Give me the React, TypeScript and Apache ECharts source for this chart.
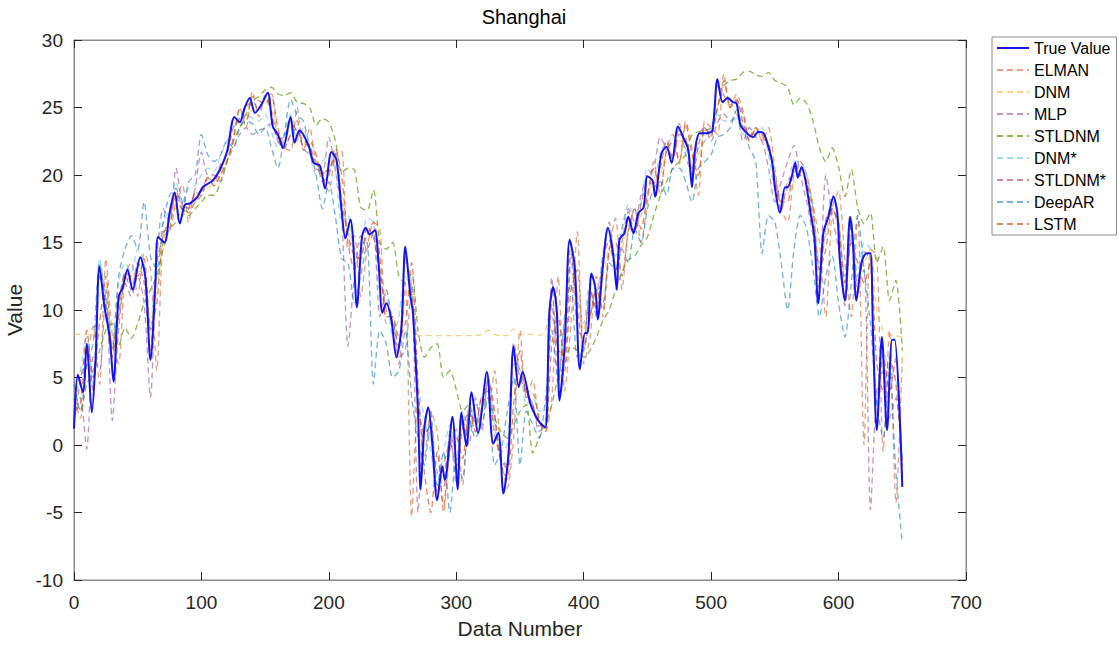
import React, { useEffect, useRef } from "react";
import * as echarts from "echarts";

// True value: [data number, value]
const trueValue: [number, number][] = [
  [0, 1.2], [3, 5.2], [7, 3.9], [10, 7.5], [14, 2.4], [17, 6.5], [20, 13.2], [24, 10.2], [28, 8], [31, 4.7],
  [35, 11], [38, 11.6], [42, 13], [46, 11.5], [52, 13.9], [56, 12.4], [60, 6.3], [64, 12.2], [66, 15.4], [71, 15],
  [75, 17.2], [79, 18.7], [83, 16.4], [87, 17.8], [91, 17.9], [97, 18.4], [101, 19.1], [109, 19.6], [115, 20.5], [120, 21.7],
  [126, 24.3], [130, 23.9], [134, 25], [138, 25.7], [142, 24.6], [147, 25.2], [152, 26.1], [156, 23.6], [160, 23], [164, 22],
  [170, 24.3], [173, 22.4], [177, 23.3], [184, 22.2], [188, 20.9], [193, 20.7], [197, 19], [202, 21.7], [206, 21.1], [210, 17.4],
  [213, 15.3], [217, 16.7], [219, 15.2], [222, 10.2], [226, 15.4], [229, 16.1], [232, 15.6], [236, 15.9], [239, 13.5], [242, 9.8],
  [245, 10.5], [249, 9.3], [253, 6.5], [257, 8.7], [260, 14.7], [264, 11], [266, 9.8], [270, 2.4], [272, -3.3], [275, 1.3],
  [278, 2.8], [281, 0.3], [285, -4.1], [289, -1.6], [291, -2.6], [297, 2.1], [301, -3.3], [304, 2.4], [308, -0.1], [312, 3.9],
  [317, 0.9], [324, 5.4], [329, 0.1], [333, 0.9], [337, -3.6], [341, -0.6], [345, 7.3], [349, 4.3], [352, 5.4], [358, 3.1],
  [362, 2.2], [366, 1.6], [370, 1.3], [373, 9.8], [376, 11.7], [379, 9.8], [381, 3.3], [385, 7.3], [389, 15.2], [393, 13.2],
  [397, 5.6], [401, 8.3], [403, 8.3], [406, 12.7], [409, 11.7], [411, 9.3], [415, 13.2], [419, 16.1], [423, 14.2], [426, 11.5],
  [428, 15.2], [432, 15.7], [435, 16.9], [439, 15.7], [443, 17.2], [447, 17.6], [450, 19.9], [454, 19.6], [456, 18.4], [461, 21.6],
  [465, 22.1], [469, 20.9], [474, 23.6], [478, 22.8], [482, 21.9], [485, 19.1], [487, 21.6], [491, 23.1], [497, 23.1], [501, 23.3],
  [505, 27.1], [509, 25.4], [513, 25.7], [517, 25.4], [520, 25.3], [523, 23.7], [528, 23.1], [533, 22.8], [537, 23.2], [541, 23.1],
  [544, 22.4], [548, 20.9], [550, 19.1], [554, 17.2], [558, 19.1], [560, 19.1], [563, 19.8], [566, 20.9], [568, 19.8], [571, 20.6],
  [574, 19.6], [578, 17.2], [581, 15.4], [584, 10.5], [588, 15.7], [592, 16.9], [596, 18.4], [599, 17.2], [601, 13.7], [605, 10.7],
  [609, 16.9], [611, 15.4], [614, 10.7], [618, 13.5], [622, 14.2], [625, 14.2], [627, 8.3], [630, 1.1], [634, 8], [638, 1.1],
  [642, 7.8], [644, 7.8], [650, -3.1],
];

// Model predictions sampled every 5 data numbers (0, 5, ..., 650)
const elman = [
  3.5, 2.0, 6.0, 8.8, 4.5, 13.8, 8.2, 6.0, 12.6, 13.5,
  11.0, 14.2, 13.0, 5.5, 15.5, 15.8, 18.0, 19.3, 16.5, 18.8,
  18.5, 19.8, 19.2, 20.3, 21.0, 22.8, 25.0, 23.5, 26.2, 24.3,
  25.8, 26.0, 22.5, 22.0, 21.8, 25.0, 21.8, 23.5, 20.8, 19.8,
  18.8, 21.5, 21.8, 14.5, 15.5, 11.0, 14.5, 16.5, 16.0, 9.0,
  9.5, 6.0, 12.0, -5.3, 3.5, -1.0, 2.5, 1.0, -5.0, -0.5,
  1.2, -3.0, 2.8, 1.0, 3.5, 3.0, 5.5, -1.0, -3.2, 0.5,
  8.5, 3.5, 4.8, 1.8, 1.0, 3.5, 12.5, 4.0, 9.0, 15.8,
  6.0, 8.0, 12.5, 9.5, 14.5, 16.8, 11.5, 16.0, 17.5, 15.0,
  18.0, 21.0, 18.5, 22.0, 23.0, 20.8, 24.0, 22.0, 18.5, 24.0,
  23.5, 23.0, 27.5, 25.0, 26.0, 24.8, 22.5, 23.5, 22.5, 23.5,
  20.5, 17.5, 16.5, 20.0, 21.0, 20.0, 17.8, 15.0, 9.5, 17.5,
  18.8, 13.5, 9.5, 17.0, 0.0, 14.5, 14.0, -0.5, 8.5, -4.3, 6.5,
];
const dnm = [
  8.2, 8.2, 8.2, 8.0, 11.0, 12.0, 6.5, 9.5, 12.0, 12.5,
  12.8, 13.0, 9.0, 11.5, 15.0, 16.5, 17.5, 17.0, 17.5, 18.0,
  18.8, 19.0, 19.5, 20.0, 21.0, 22.5, 23.5, 24.5, 24.8, 25.0,
  25.5, 24.8, 23.0, 22.5, 23.5, 23.0, 22.5, 22.0, 21.0, 20.0,
  20.5, 21.0, 18.5, 16.0, 14.5, 14.0, 15.5, 15.5, 13.0, 11.0,
  9.0, 8.0, 12.5, 11.5, 8.1, 8.1, 8.1, 8.1, 8.1, 8.1,
  8.1, 8.1, 8.1, 8.1, 8.2, 8.5, 8.2, 8.1, 8.1, 8.6,
  8.2, 8.2, 8.2, 8.1, 8.5, 11.0, 8.0, 8.5, 13.0, 10.5,
  8.5, 10.5, 10.5, 12.5, 14.5, 13.5, 14.5, 16.0, 16.0, 17.0,
  18.5, 19.5, 20.0, 21.5, 21.5, 22.5, 22.5, 20.5, 21.5, 22.5,
  23.0, 25.5, 25.5, 25.0, 24.5, 23.5, 23.0, 23.0, 22.8, 22.0,
  19.5, 18.0, 18.5, 19.5, 20.0, 19.5, 17.0, 13.5, 15.5, 17.5,
  16.0, 12.0, 15.0, 12.5, 13.5, 14.5, 10.0, 8.5, 8.2, 8.1, 8.0,
];
const mlp = [
  2.0, 3.5, -0.3, 6.5, 5.5, 11.5, 1.8, 8.5, 12.0, 11.0,
  12.5, 10.5, 3.5, 14.0, 17.5, 16.5, 20.5, 18.0, 17.5, 19.0,
  21.7, 20.0, 20.0, 19.5, 21.0, 22.0, 23.0, 23.5, 23.0, 23.3,
  23.5, 23.8, 22.5, 22.0, 23.0, 23.5, 22.0, 21.5, 21.0, 20.0,
  22.8, 20.5, 17.0, 7.3, 12.5, 15.5, 14.5, 15.8, 9.5, 11.5,
  9.0, 6.5, 7.0, 12.0, -5.0, 1.5, 0.5, -2.0, -3.1, 1.0,
  -3.0, 2.0, 0.0, 3.5, 1.0, 5.0, 2.0, -1.0, -1.5, 7.6,
  5.5, 4.0, 3.0, 1.0, 1.6, 12.4, 5.0, 9.0, 15.0, 8.5,
  8.0, 11.5, 9.5, 14.0, 16.5, 13.0, 16.0, 17.5, 16.5, 18.5,
  20.0, 20.5, 22.8, 22.0, 21.5, 23.8, 21.5, 20.0, 23.0, 23.5,
  22.5, 23.9, 24.5, 24.0, 24.5, 22.5, 23.5, 22.8, 22.5, 20.5,
  18.0, 19.5, 21.0, 22.2, 20.0, 18.0, 15.5, 13.0, 20.0, 17.0,
  14.5, 11.0, 15.5, 12.0, 13.0, -4.8, 4.0, 5.5, 2.0, 3.5, -1.5,
];
const stldnm = [
  3.0, 2.5, 4.5, 5.5, 7.0, 8.5, 9.0, 7.3, 8.7, 7.9,
  9.0, 10.5, 11.5, 12.5, 14.5, 16.0, 16.5, 17.5, 17.0, 17.5,
  18.0, 18.5, 18.5, 19.5, 21.0, 22.5, 23.5, 24.5, 25.5, 25.8,
  26.3, 26.5, 26.0, 25.9, 26.1, 25.4, 25.3, 25.0, 23.7, 24.2,
  23.9, 22.6, 20.2, 20.5, 20.4, 17.6, 17.4, 18.9, 15.0, 14.5,
  15.0, 12.5, 12.0, 12.7, 8.5, 6.5, 7.2, 7.5, 5.0, 5.5,
  4.1, 2.5, 3.0, 1.5, 2.5, 3.5, 2.0, 1.0, 0.5, 1.5,
  2.5, 3.0, -0.6, 0.5, 1.5, 3.0, 5.0, 6.0, 7.3, 7.0,
  6.5, 7.0, 8.0, 9.2, 10.0, 11.5, 12.8, 13.7, 14.0, 14.8,
  15.4, 17.0, 18.4, 19.5, 20.5, 21.0, 21.5, 23.0, 23.2, 23.3,
  23.5, 25.0, 26.6, 27.0, 27.1, 27.6, 27.7, 27.4, 27.3, 27.6,
  27.0, 26.8, 26.5, 25.2, 25.7, 25.3, 24.0, 22.0, 21.0, 22.0,
  20.6, 18.4, 20.4, 17.6, 16.4, 17.2, 13.5, 14.7, 10.7, 12.2, 7.0,
];
const dnmStar = [
  2.5, 5.5, 8.0, 4.5, 13.8, 11.0, 7.5, 12.0, 13.5, 12.8,
  14.5, 13.5, 8.5, 14.8, 16.5, 17.5, 19.5, 18.0, 19.0, 19.2,
  20.0, 20.5, 20.3, 21.5, 22.5, 23.5, 24.0, 24.5, 24.2, 24.0,
  24.5, 23.2, 22.0, 23.0, 24.5, 22.5, 23.5, 21.5, 20.0, 21.0,
  21.5, 20.5, 16.5, 17.0, 14.5, 15.0, 16.8, 16.5, 11.5, 11.5,
  8.0, 9.5, 13.5, 12.0, 4.5, 2.0, -0.5, -3.0, -0.5, 1.5,
  -1.0, 2.5, 1.0, 3.0, 2.5, 5.0, 1.5, -0.5, 0.0, 6.0,
  5.5, 3.0, 3.5, 2.5, 3.0, 9.5, 8.0, 8.5, 13.5, 11.0,
  9.0, 12.0, 11.5, 14.0, 16.0, 14.0, 16.0, 17.8, 17.0, 18.0,
  20.5, 19.8, 21.5, 22.5, 22.0, 23.5, 22.0, 20.5, 22.0, 22.5,
  23.5, 24.5, 24.0, 24.0, 24.2, 23.0, 23.5, 23.0, 23.5, 21.5,
  19.0, 18.5, 19.0, 21.0, 21.0, 20.0, 17.5, 13.5, 16.0, 18.5,
  16.5, 12.5, 16.5, 12.5, 15.0, 14.5, 3.0, 7.0, 5.5, 5.0, -1.0,
];
const stldnmStar = [
  1.5, 4.8, 7.0, 4.0, 12.5, 10.2, 6.5, 10.5, 12.6, 11.5,
  13.5, 12.0, 7.0, 13.5, 15.5, 16.8, 18.5, 17.5, 17.6, 18.6,
  18.8, 19.8, 19.5, 20.8, 21.5, 23.5, 24.2, 25.0, 25.5, 24.8,
  25.9, 24.6, 22.7, 22.8, 24.0, 23.2, 22.6, 22.2, 20.5, 20.3,
  20.3, 21.6, 18.0, 15.6, 14.0, 13.8, 16.2, 15.4, 12.8, 10.0,
  9.2, 7.2, 14.0, 11.0, 3.0, 0.8, 1.5, -3.6, -1.6, 0.2,
  -1.5, 1.3, 2.4, 1.7, 3.6, 4.0, 0.8, -1.0, -1.8, 6.8,
  5.0, 3.9, 3.0, 1.4, 1.8, 10.4, 7.0, 6.8, 14.2, 10.0,
  7.2, 11.6, 10.0, 13.6, 15.2, 12.9, 15.0, 17.3, 15.7, 17.8,
  19.4, 19.4, 20.5, 22.5, 21.2, 23.0, 22.8, 19.6, 22.2, 23.5,
  22.8, 26.6, 25.9, 25.2, 25.6, 23.9, 22.6, 23.4, 22.7, 22.4,
  19.6, 17.3, 19.5, 20.1, 20.7, 19.4, 16.4, 11.6, 16.7, 17.5,
  16.0, 10.3, 16.6, 11.0, 14.3, 13.7, 1.6, 6.7, 4.0, 6.5, -2.5,
];
const deepAR = [
  4.5, 2.5, 6.0, 7.5, 13.5, 10.5, 7.0, 12.5, 14.5, 15.5,
  14.5, 18.0, 14.0, 13.0, 16.5, 18.5, 19.0, 17.5, 19.5, 20.0,
  23.0, 21.5, 21.0, 21.5, 22.5, 22.0, 23.5, 24.0, 23.8, 23.0,
  23.5, 22.0, 20.5, 23.0, 25.6, 24.5, 24.0, 22.0, 20.0, 17.5,
  19.5, 17.0, 13.8, 13.5, 10.5, 12.5, 15.0, 4.5, 8.5, 7.5,
  5.0, 5.5, 8.5, 3.5, 0.5, -1.5, 2.5, -3.0, -0.5, -5.0,
  -1.0, -2.5, 2.0, 0.5, 1.5, 3.5, -1.5, -0.5, 2.5, 5.0,
  -1.5, 2.5, 1.5, 0.5, 3.5, 8.5, 4.5, 9.5, 12.0, 6.5,
  7.0, 9.5, 11.5, 10.5, 13.5, 13.0, 14.5, 13.5, 16.0, 15.0,
  17.5, 19.0, 19.5, 18.5, 20.5, 20.5, 19.5, 18.0, 20.5, 21.0,
  21.5, 22.8, 23.0, 23.5, 24.8, 23.5, 22.0, 21.0, 14.2, 17.0,
  16.5, 13.5, 10.0, 14.5, 17.0, 16.0, 13.0, 9.5, 12.5, 14.0,
  10.5, 8.0, 12.0, 17.0, 13.0, 9.0, 3.0, 0.5, 5.5, -2.0, -7.3,
];
const lstm = [
  2.5, 3.0, 8.5, 5.0, 9.0, 12.5, 7.0, 9.5, 12.8, 12.5,
  12.5, 13.8, 8.5, 10.5, 15.8, 16.0, 18.8, 17.8, 17.2, 18.0,
  18.5, 19.8, 19.2, 20.0, 21.0, 22.5, 24.8, 24.0, 25.8, 25.5,
  25.3, 25.8, 23.5, 22.0, 23.0, 24.0, 22.0, 22.5, 21.5, 19.5,
  20.0, 22.0, 20.0, 15.0, 13.0, 14.5, 15.5, 16.5, 14.0, 9.5,
  9.5, 8.0, 9.0, 13.5, 4.5, -2.0, -5.0, -0.5, -4.5, 0.0,
  0.5, -1.0, 2.5, 1.0, 2.5, 4.8, 2.5, -1.5, -2.5, 3.0,
  7.0, 3.5, 3.8, 2.0, 1.0, 7.5, 9.5, 5.5, 11.5, 13.0,
  7.0, 9.5, 11.5, 10.0, 14.5, 15.0, 12.5, 15.8, 17.5, 16.0,
  18.5, 20.5, 19.0, 21.8, 22.5, 21.0, 23.8, 21.5, 20.0, 23.5,
  23.0, 25.0, 27.0, 25.0, 25.5, 24.5, 22.8, 23.5, 23.0, 22.0,
  20.0, 18.0, 18.0, 20.5, 20.5, 19.5, 17.5, 13.0, 14.5, 17.5,
  16.5, 12.0, 15.0, 13.5, 12.0, 13.5, 6.0, 4.0, 6.5, 4.5, -1.5,
];

const stepN: number[] = Array.from({ length: 131 }, (_, i) => i * 5);
const xTicks = { min: 0, max: 700, interval: 100 };
const yTicks = { min: -10, max: 30, interval: 5 };

const FONT = "'Liberation Sans', Arial, Helvetica, sans-serif";

export default function App() {
  const ref = useRef<HTMLDivElement>(null);
  useEffect(() => {
    if (!ref.current) return;
    const chart = echarts.init(ref.current, null, { renderer: "svg" });
    const dashed = (name: string, color: string, vals: number[]) => ({
      name,
      type: "line",
      data: stepN.map((n, i) => [n, vals[i]]),
      symbol: "none",
      showSymbol: false,
      smooth: 0.25,
      z: 2,
      lineStyle: { color, width: 1.3, type: [6, 4] },
      itemStyle: { color },
    });
    const axisLine = { show: true, onZero: false, lineStyle: { color: "#8c8c8c", width: 1 } };
    const tick = { show: true, inside: true, length: 8, lineStyle: { color: "#262626" } };
    chart.setOption({
      animation: false,
      textStyle: { fontFamily: FONT },
      graphic: [
        {
          type: "text",
          x: 524,
          y: 7,
          style: { text: "Shanghai", fontSize: 20, fill: "#000", textAlign: "center", fontFamily: FONT },
        },
      ],
      grid: {
        left: 74,
        top: 40,
        width: 892,
        height: 540,
        show: true,
        borderColor: "#8c8c8c",
        borderWidth: 1,
        containLabel: false,
        outerBoundsMode: "none",
      },
      legend: {
        orient: "vertical",
        left: 992,
        top: 37,
        padding: [3, 6, 3, 4],
        itemGap: 6,
        itemWidth: 32,
        itemHeight: 14,
        borderColor: "#8c8c8c",
        borderWidth: 1,
        backgroundColor: "#fff",
        itemStyle: { color: "rgba(0,0,0,0)", borderWidth: 0, opacity: 0 },
        textStyle: { fontSize: 16, color: "#000", fontFamily: FONT },
        data: ["True Value", "ELMAN", "DNM", "MLP", "STLDNM", "DNM*", "STLDNM*", "DeepAR", "LSTM"],
      },
      xAxis: [
        {
          type: "value",
          ...xTicks,
          position: "bottom",
          axisLine,
          axisTick: tick,
          splitLine: { show: false },
          axisLabel: { color: "#262626", fontSize: 19, margin: 13, fontFamily: FONT },
          name: "Data Number",
          nameLocation: "middle",
          nameGap: 38,
          nameTextStyle: { fontSize: 21, color: "#262626", fontFamily: FONT },
        },
        {
          type: "value",
          ...xTicks,
          position: "top",
          axisLine,
          axisTick: tick,
          splitLine: { show: false },
          axisLabel: { show: false },
        },
      ],
      yAxis: [
        {
          type: "value",
          ...yTicks,
          position: "left",
          axisLine,
          axisTick: tick,
          splitLine: { show: false },
          axisLabel: { color: "#262626", fontSize: 19, margin: 11, fontFamily: FONT },
          name: "Value",
          nameLocation: "middle",
          nameGap: 38,
          nameTextStyle: { fontSize: 21, color: "#262626", fontFamily: FONT },
        },
        {
          type: "value",
          ...yTicks,
          position: "right",
          axisLine,
          axisTick: tick,
          splitLine: { show: false },
          axisLabel: { show: false },
        },
      ],
      series: [
        {
          name: "True Value",
          type: "line",
          data: trueValue,
          symbol: "none",
          showSymbol: false,
          smooth: 0.3,
          z: 5,
          lineStyle: { color: "#1414f0", width: 2 },
          itemStyle: { color: "#1414f0" },
        },
        dashed("ELMAN", "rgba(217,83,25,0.55)", elman),
        dashed("DNM", "rgba(237,177,32,0.55)", dnm),
        dashed("MLP", "rgba(126,47,142,0.5)", mlp),
        dashed("STLDNM", "rgba(119,172,48,0.85)", stldnm),
        dashed("DNM*", "rgba(77,190,238,0.55)", dnmStar),
        dashed("STLDNM*", "rgba(162,20,47,0.5)", stldnmStar),
        dashed("DeepAR", "rgba(0,114,189,0.55)", deepAR),
        dashed("LSTM", "rgba(217,83,25,0.7)", lstm),
      ],
    });
    return () => chart.dispose();
  }, []);
  return (
    <div
      ref={ref}
      style={{ position: "fixed", left: 0, top: 0, width: 1119, height: 646, background: "#fff" }}
    />
  );
}
